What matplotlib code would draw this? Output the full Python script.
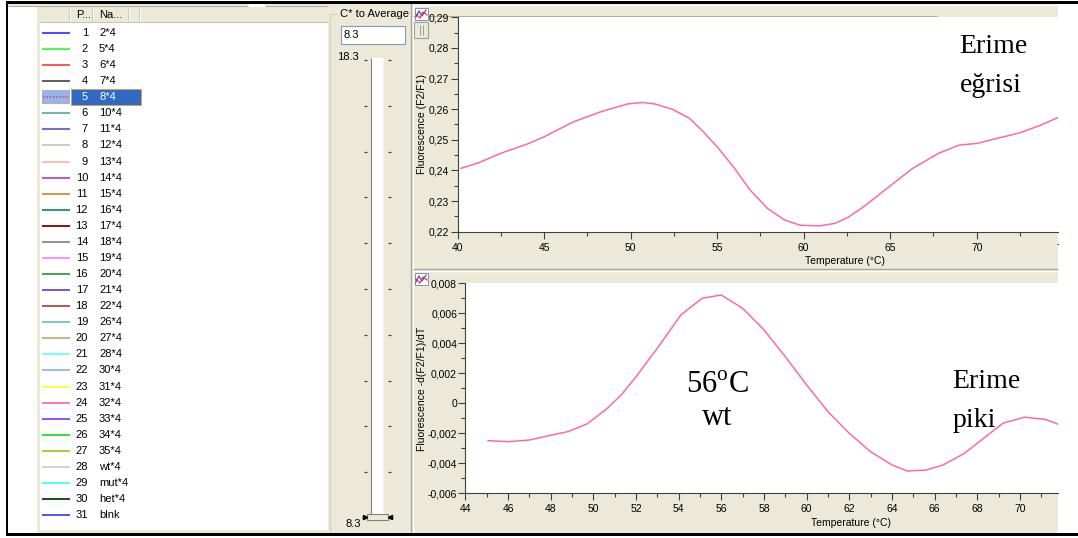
import numpy as np
import matplotlib.pyplot as plt
from matplotlib.patches import Rectangle
from matplotlib.ticker import MultipleLocator, FuncFormatter
from matplotlib.transforms import Bbox, TransformedBbox

plt.rcParams['font.family'] = ['Liberation Sans', 'DejaVu Sans']
plt.rcParams['mathtext.fontset'] = 'custom'
plt.rcParams['mathtext.rm'] = 'Liberation Serif'

# sample list (left panel)
sample_no = list(range(1, 32))
sample_names = ['2*4', '5*4', '6*4', '7*4', '8*4', '10*4', '11*4', '12*4', '13*4', '14*4',
                '15*4', '16*4', '17*4', '18*4', '19*4', '20*4', '21*4', '22*4', '26*4', '27*4',
                '28*4', '30*4', '31*4', '32*4', '33*4', '34*4', '35*4', 'wt*4', 'mut*4', 'het*4',
                'blnk']
sample_colors = ['#3c3cff', '#33ff33', '#ff4444', '#505050', '#9a5fb0', '#5fb398', '#6a5fbf',
                 '#c8c8b8', '#ffb8b0', '#b050c0', '#d09038', '#1f8a80', '#800000', '#888888',
                 '#ff88ff', '#3c9a3c', '#6a4acf', '#b04848', '#6ccaaa', '#d0a878', '#66ffff',
                 '#88b8ff', '#ffff22', '#ff6aa8', '#9040ff', '#22dd22', '#99d022', '#d0d0d0',
                 '#44ffff', '#004400', '#4444ff']
selected = 5

# melting curve (top)
melt_temp = [40.2, 41.2, 42.5, 44.1, 45.0, 46.7, 48.3, 49.8, 50.7, 51.4, 52.4, 53.4, 54.2,
             55.0, 56.0, 56.9, 57.9, 58.9, 59.8, 60.9, 61.8, 62.6, 63.6, 64.8, 66.3, 67.8,
             69.0, 70.0, 71.2, 72.5, 73.7, 74.7]
melt_fluor = [0.2407, 0.2425, 0.2456, 0.2488, 0.2510, 0.2559, 0.2592, 0.2617, 0.2622, 0.2617,
              0.2600, 0.2570, 0.2526, 0.2477, 0.2407, 0.2336, 0.2276, 0.2238, 0.2221, 0.2219,
              0.2227, 0.2248, 0.2287, 0.2341, 0.2407, 0.2456, 0.2483, 0.2488, 0.2505, 0.2523,
              0.2548, 0.2573]

# melting peak (bottom)
peak_temp = [45.06, 46.0, 47.0, 48.0, 48.8, 49.7, 50.6, 51.3, 52.0, 53.0, 54.1, 55.1, 56.0,
             57.0, 58.0, 59.0, 60.0, 61.0, 62.0, 63.0, 64.0, 64.7, 65.6, 66.4, 67.4, 68.3,
             69.2, 70.2, 71.2, 71.76]
peak_deriv = [-0.00249, -0.00256, -0.00245, -0.00213, -0.00189, -0.00138, -0.00040, 0.00055,
              0.00177, 0.00367, 0.00589, 0.00700, 0.00722, 0.00633, 0.00489, 0.00311, 0.00122,
              -0.00056, -0.00200, -0.00323, -0.00411, -0.00451, -0.00445, -0.00411, -0.00333,
              -0.00233, -0.00133, -0.00093, -0.00107, -0.00138]

slider_top, slider_bottom = '18.3', '8.3'
avg_value = '8.3'

W, H = 1078, 538
beige = '#ece9d8'
curve_color = '#ff6a9e'

fig = plt.figure(figsize=(W / 100, H / 100), dpi=100)
bg = fig.add_axes([0, 0, 1, 1])
bg.set_xlim(0, W)
bg.set_ylim(H, 0)
bg.axis('off')


def box(x, y, w, h, fc, ec='none', lw=0.0, z=1):
    bg.add_patch(Rectangle((x, y), w, h, facecolor=fc, edgecolor=ec, lw=lw, zorder=z))


def hline(x0, x1, y, c, lw=0.8, z=2):
    bg.plot([x0, x1], [y, y], color=c, lw=lw, zorder=z, solid_capstyle='butt')


def vline(x, y0, y1, c, lw=0.8, z=2):
    bg.plot([x, x], [y0, y1], color=c, lw=lw, zorder=z, solid_capstyle='butt')


# ---- left list panel ----
box(8, 3, 240, 3, beige)
box(265, 3, 63, 3, beige)
hline(8, 248, 6, '#b0ad9e')
hline(265, 328, 6, '#b0ad9e')
box(37, 6, 3, 527, beige)
box(37, 530, 291, 3, beige)
box(40, 7, 288, 15, beige)
hline(40, 328, 22, '#c8c5b4')
for sx in [69, 92, 128, 139]:
    vline(sx, 9, 21, '#c8c5b4')
    vline(sx + 1, 9, 21, 'white')
bg.text(76, 15, 'P...', fontsize=8, va='center', ha='left')
bg.text(99, 15, 'Na...', fontsize=8, va='center', ha='left')

row_y0, row_step = 33, 16.07
for i, (n, name, col) in enumerate(zip(sample_no, sample_names, sample_colors)):
    yy = row_y0 + i * row_step
    txt_col = 'black'
    if n == selected:
        box(42, yy - 7, 28, 14, '#9db3e0')
        bg.plot([43, 69], [yy, yy], color=col, lw=1.2, ls=(0, (1, 1)), zorder=3)
        box(70.5, yy - 8, 70, 16, '#316ac5', ec='#d8a040', lw=0.6, z=2)
        txt_col = 'white'
    else:
        bg.plot([42, 70], [yy, yy], color=col, lw=1.3, zorder=3, solid_capstyle='butt')
    bg.text(88, yy, str(n), fontsize=8, ha='right', va='center', color=txt_col, zorder=4)
    bg.text(99, yy, name, fontsize=8, ha='left', va='center', color=txt_col, zorder=4)

# ---- middle slider panel ----
box(328, 3, 730, 530, beige, z=0.5)
vline(330, 14, 533, '#d0d0bf')
hline(330, 337, 14, '#d0d0bf')
bg.text(340, 14, 'C* to Average', fontsize=8, va='center', ha='left')
box(341, 26, 64, 18, 'white', ec='#7f9db9', lw=0.8)
bg.text(344, 35.5, avg_value, fontsize=8, va='center', ha='left')
bg.text(359, 57, slider_top, fontsize=8, va='center', ha='right')
bg.text(345, 524, slider_bottom, fontsize=8, va='center', ha='left')
box(371, 58, 12, 460, 'white')
vline(371, 58, 518, '#808080')
vline(383, 58, 518, '#f4f4f4')
for ty in np.linspace(60, 518, 11):
    hline(364, 367, ty, '#404040', lw=0.9)
    hline(388, 391, ty, '#404040', lw=0.9)
box(367, 514, 21, 6, beige, ec='#808080', lw=0.8, z=3)
bg.plot([365], [517], marker='>', ms=3, color='black', zorder=4)
bg.plot([390], [517], marker='<', ms=3, color='black', zorder=4)
vline(411, 3, 533, '#a8a596', lw=1)
vline(412.5, 3, 533, 'white', lw=1)

# ---- right plot panel chrome ----
hline(413, 1058, 4.5, 'white', lw=1)
hline(413, 937, 15.5, '#b0ad9e', lw=0.8)
hline(413, 1058, 268.5, '#a8a596', lw=1)
hline(413, 1058, 270.5, 'white', lw=1)
for iy in [8, 273]:
    box(415, iy, 13, 12, 'white', ec='#8080a0', lw=0.6, z=3)
    bg.plot([416, 419, 422, 426], [iy + 9, iy + 3, iy + 8, iy + 2], color='#2040ff', lw=0.8, zorder=4)
    bg.plot([416, 420, 423, 427], [iy + 6, iy + 10, iy + 4, iy + 7], color='#ff2020', lw=0.8, zorder=4)
box(414, 22, 14, 16, beige, ec='#a0a0a0', lw=0.8, z=3)
vline(419.5, 25, 35, '#909090', lw=0.6, z=4)
vline(422.5, 25, 35, '#909090', lw=0.6, z=4)

# left/top/bottom black frame
box(6, 1, 1072, 2.5, 'black', z=5)
box(6, 533, 1072, 3, 'black', z=5)
box(6, 1, 2, 535, 'black', z=5)


def style_axis(ax, xlim, ylim, xmaj, xmin, ymaj, ymin, yfmt):
    ax.set_facecolor('white')
    ax.set_xlim(*xlim)
    ax.set_ylim(*ylim)
    for s in ['top', 'right']:
        ax.spines[s].set_visible(False)
    for s in ['left', 'bottom']:
        ax.spines[s].set_color('#404040')
        ax.spines[s].set_linewidth(0.8)
    ax.xaxis.set_major_locator(MultipleLocator(xmaj))
    ax.xaxis.set_minor_locator(MultipleLocator(xmin))
    ax.yaxis.set_major_locator(MultipleLocator(ymaj))
    ax.yaxis.set_minor_locator(MultipleLocator(ymin))
    ax.yaxis.set_major_formatter(FuncFormatter(yfmt))
    ax.tick_params(which='major', direction='out', length=5, width=0.8, color='#404040',
                   labelsize=7.5)
    ax.tick_params(which='minor', direction='out', length=3, width=0.8, color='#404040')
    ax.tick_params(axis='y', pad=1)
    ax.tick_params(axis='x', pad=3)


def fmt_top(v, pos):
    return f'{v:.2f}'.replace('.', ',')


def fmt_bottom(v, pos):
    if abs(v) < 1e-9:
        return '0'
    return f'{v:.3f}'.replace('.', ',')


# top: melting curve
ax1 = fig.add_axes([457.7 / W, 1 - 231.7 / H, 600 / W, 214.4 / H])
style_axis(ax1, (40, 74.68), (0.22, 0.29), 5, 2.5, 0.01, 0.005, fmt_top)
ax1.plot(melt_temp, melt_fluor, color=curve_color, lw=1.1)
ax1.set_xlabel('Temperature (°C)', fontsize=7.5)
ax1.xaxis.label.set_va('center')
ax1.xaxis.set_label_coords((845 - 457.7) / 600, -(260.5 - 231.7) / 214.4)
ax1.set_ylabel('Fluorescence (F2/F1)', fontsize=7.5)
ax1.yaxis.label.set_va('center')
ax1.yaxis.set_label_coords((422 - 457.7) / 600, (231.7 - 124) / 214.4)
ax1.text(69.0, 0.2782, 'Erime', family='Liberation Serif', fontsize=20, va='baseline', ha='left')
ax1.text(69.0, 0.2657, 'eğrisi', family='Liberation Serif', fontsize=20, va='baseline', ha='left')

# the "75" tick label is cut off at the panel edge
cut = bg.text(1062, 248.5, '75', fontsize=7.5, ha='center', va='center', zorder=3)
cut.set_clip_box(TransformedBbox(Bbox([[0, 0], [1059, H]]), bg.transData))
cut.set_clip_on(True)

# bottom: melting peak
ax2 = fig.add_axes([465.4 / W, 1 - 493.3 / H, 592.3 / W, 210 / H])
style_axis(ax2, (44, 71.77), (-0.006, 0.008), 2, 1, 0.002, 0.001, fmt_bottom)
ax2.plot(peak_temp, peak_deriv, color=curve_color, lw=1.1)
ax2.set_xlabel('Temperature (°C)', fontsize=7.5)
ax2.xaxis.label.set_va('center')
ax2.xaxis.set_label_coords((851 - 465.4) / 592.3, -(523 - 493.3) / 210)
ax2.set_ylabel('Fluorescence -d(F2/F1)/dT', fontsize=7.5)
ax2.yaxis.label.set_va('center')
ax2.yaxis.set_label_coords((422 - 465.4) / 592.3, (493.3 - 389) / 210)
ax2.text(55.8, 0.00071, r'56$^{\mathrm{o}}$C', family='Liberation Serif', fontsize=22,
         va='baseline', ha='center')
ax2.text(55.8, -0.00145, 'wt', family='Liberation Serif', fontsize=22, va='baseline', ha='center')
ax2.text(66.84, 0.0010, 'Erime', family='Liberation Serif', fontsize=20, va='baseline', ha='left')
ax2.text(66.84, -0.00156, 'piki', family='Liberation Serif', fontsize=20, va='baseline', ha='left')

fig.savefig('out.png', dpi=100, facecolor='white')
